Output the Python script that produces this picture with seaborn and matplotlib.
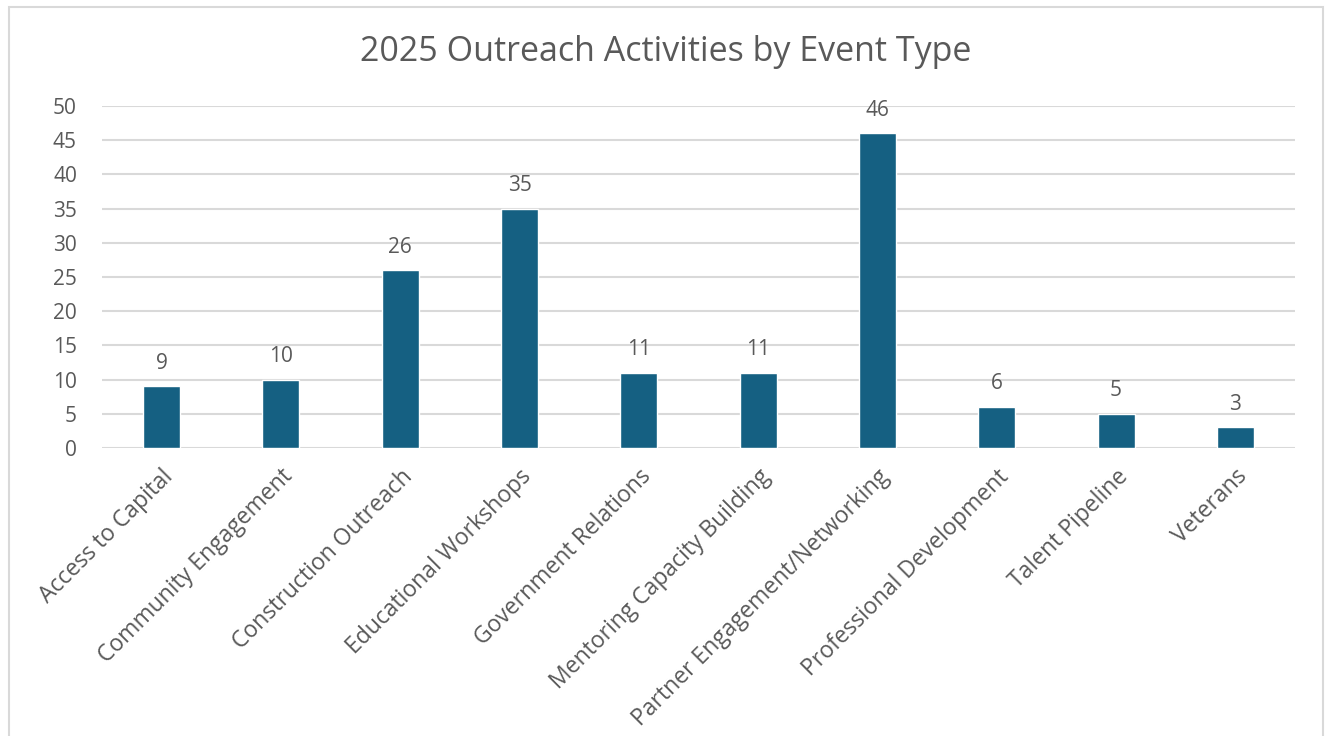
import matplotlib
matplotlib.use("Agg")
import matplotlib.pyplot as plt
import seaborn as sns
import pandas as pd
from matplotlib.patches import Rectangle

event_types = [
    "Access to Capital",
    "Community Engagement",
    "Construction Outreach",
    "Educational Workshops",
    "Government Relations",
    "Mentoring Capacity Building",
    "Partner Engagement/Networking",
    "Professional Development",
    "Talent Pipeline",
    "Veterans",
]
counts = [9, 10, 26, 35, 11, 11, 46, 6, 5, 3]
y_ticks = [0, 5, 10, 15, 20, 25, 30, 35, 40, 45, 50]

sns.set_theme(style="white")
plt.rcParams["font.family"] = ["Open Sans", "DejaVu Sans"]

text_grey = "#595959"
grid_grey = "#d9d9d9"
bar_color = "#156082"

df = pd.DataFrame({"Event": event_types, "Count": counts})

fig = plt.figure(figsize=(13.31, 7.36), dpi=100)
ax = fig.add_axes([0.0766, 0.3913, 0.8964, 0.4647])

sns.barplot(data=df, x="Event", y="Count", color=bar_color, width=0.31,
            saturation=1, ax=ax, zorder=3)

ax.set_ylim(0, 50)
ax.set_xlim(-0.5, len(event_types) - 0.5)
ax.set_yticks(y_ticks)
ax.yaxis.grid(True, color=grid_grey, linewidth=1.5, zorder=0)
ax.set_axisbelow(True)
for s in ax.spines.values():
    s.set_visible(False)
ax.tick_params(axis="both", length=0, colors=text_grey, labelsize=15)
ax.tick_params(axis="y", pad=18)
ax.set_xticks(range(len(event_types)))
ax.set_xticklabels(event_types, rotation=45, ha="right", rotation_mode="anchor",
                   fontsize=16.5)
ax.tick_params(axis="x", pad=12)
ax.set_xlabel("")
ax.set_ylabel("")

ax.bar_label(ax.containers[0], padding=9, fontsize=15, color=text_grey)

fig.text(0.5, 0.93, "2025 Outreach Activities by Event Type", ha="center",
         va="center", fontsize=24.5, color=text_grey)

# light chart border like the spreadsheet chart frame
fig.patches.append(Rectangle((0.0065, -0.02), 0.9875, 1.01, transform=fig.transFigure,
                             fill=False, edgecolor=grid_grey, linewidth=1.5))

fig.savefig("out.png", dpi=100, facecolor="white")
